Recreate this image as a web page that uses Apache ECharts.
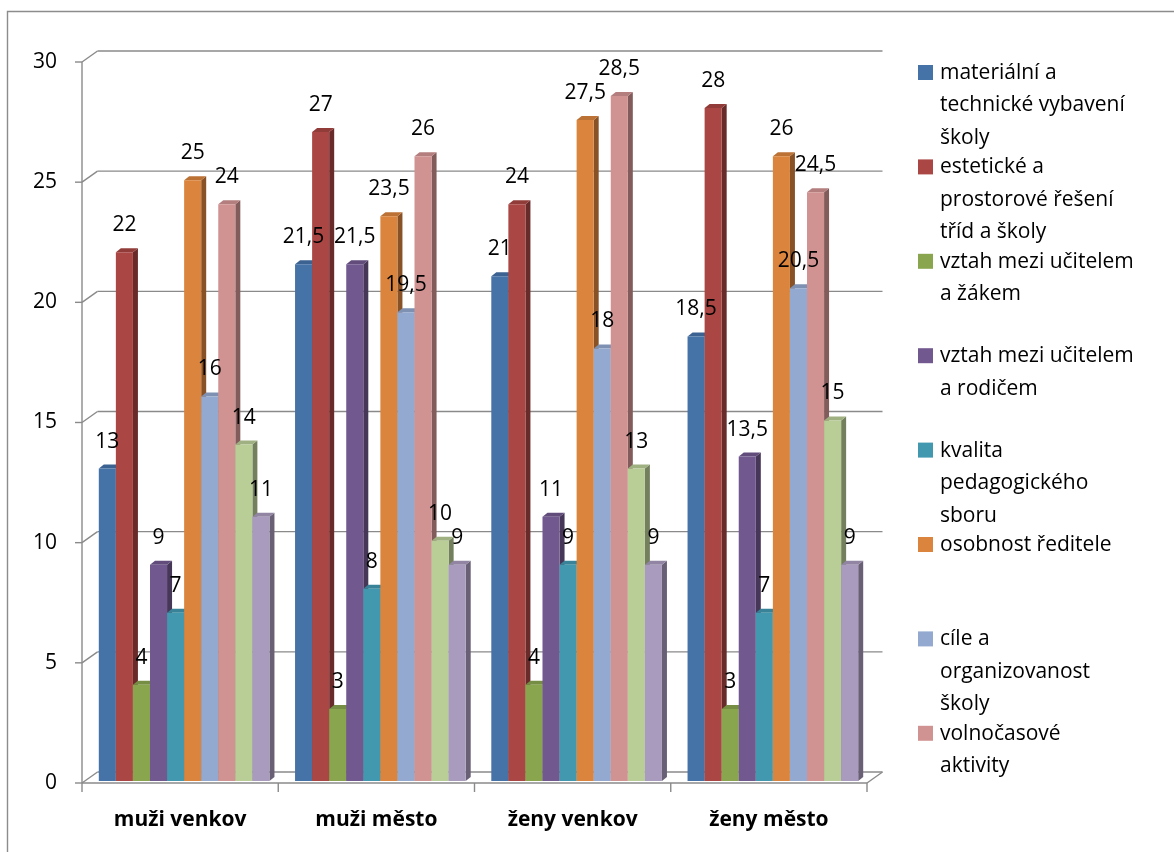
<!DOCTYPE html>
<html>
<head>
<meta charset="utf-8">
<script src="https://cdn.jsdelivr.net/npm/echarts@6/dist/echarts.min.js"></script>
<style>
  html, body { margin: 0; padding: 0; background: #ffffff; }
  #chart { width: 1174px; height: 852px; }
</style>
</head>
<body>
<div id="chart"></div>
<script>
// Categories on the horizontal axis
const categories = ['muži venkov', 'muži město', 'ženy venkov', 'ženy město'];

// Legend entries (the first eight series)
const legendNames = [
  'materiální a\ntechnické vybavení\nškoly',
  'estetické a\nprostorové řešení\ntříd a školy',
  'vztah mezi učitelem\na žákem',
  'vztah mezi učitelem\na rodičem',
  'kvalita\npedagogického\nsboru',
  'osobnost ředitele',
  'cíle a\norganizovanost\nškoly',
  'volnočasové\naktivity'
];

// Values per series, one per category
const vybaveni    = [13, 21.5, 21, 18.5];
const esteticke   = [22, 27, 24, 28];
const ucitelZak   = [4, 3, 4, 3];
const ucitelRodic = [9, 21.5, 11, 13.5];
const kvalita     = [7, 8, 9, 7];
const reditel     = [25, 23.5, 27.5, 26];
const cile        = [16, 19.5, 18, 20.5];
const volnocas    = [24, 26, 28.5, 24.5];
const rada9       = [14, 10, 13, 15];
const rada10      = [11, 9, 9, 9];

const yTicks = [0, 5, 10, 15, 20, 25, 30];

const seriesValues = [vybaveni, esteticke, ucitelZak, ucitelRodic, kvalita,
                      reditel, cile, volnocas, rada9, rada10];
const colors = ['#4572A7', '#AA4643', '#89A54E', '#71588F', '#4198AF',
                '#DB843D', '#93A9CF', '#D19392', '#B9CD96', '#A99BBD'];

const FONT = '"Open Sans", "Noto Sans", sans-serif';
const N = seriesValues.length;
const GAP = 1.5;          // gap between clusters, in bar widths
const SHIFT = 4;          // cluster offset to the right inside the band
const FACE_DY = 2;        // bar front face sits slightly behind the front plane
const BAR_DX = 5, BAR_DY = 4;     // bar depth (oblique)
const WALL_DX = 15.5, WALL_DY = 11; // back wall offset
const GRID_COLOR = '#8a8a8a';

function shade(hex, k) {
  const n = parseInt(hex.slice(1), 16);
  const r = Math.round(((n >> 16) & 255) * k);
  const g = Math.round(((n >> 8) & 255) * k);
  const b = Math.round((n & 255) * k);
  return 'rgb(' + r + ',' + g + ',' + b + ')';
}

function fmt(v) { return String(v).replace('.', ','); }

function barItem(params, api) {
  const s = params.seriesIndex - 1;
  const ci = api.value(0);
  const v = api.value(1);
  const band = api.size([1, 0])[0];
  const bw = band / (N + GAP);
  const base = api.coord([ci, 0]);
  const top = api.coord([ci, v]);
  const x = base[0] - N * bw / 2 + SHIFT + s * bw;
  const yB = base[1] - FACE_DY;
  const yT = top[1] - FACE_DY;
  const c = colors[s];
  return {
    type: 'group',
    children: [
      { type: 'polygon', z2: 1,
        shape: { points: [[x + bw, yT], [x + bw + BAR_DX, yT - BAR_DY], [x + bw + BAR_DX, yB - BAR_DY], [x + bw, yB]] },
        style: { fill: shade(c, 0.62) } },
      { type: 'polygon', z2: 1,
        shape: { points: [[x, yT], [x + BAR_DX, yT - BAR_DY], [x + bw + BAR_DX, yT - BAR_DY], [x + bw, yT]] },
        style: { fill: shade(c, 0.86) } },
      { type: 'rect', z2: 2,
        shape: { x: x, y: yT, width: bw, height: yB - yT },
        style: { fill: c } },
      { type: 'text', z2: 100,
        style: { text: fmt(v), x: x + bw / 2, y: yT - 27, align: 'center', verticalAlign: 'middle',
                 font: '21px ' + FONT, fill: '#000' } }
    ]
  };
}

function frameItem(params, api) {
  const band = api.size([1, 0])[0];
  const x0 = api.coord([0, 0])[0] - band / 2;
  const x1 = api.coord([categories.length - 1, 0])[0] + band / 2;
  const y0 = api.coord([0, 0])[1];
  const yTop = api.coord([0, yTicks[yTicks.length - 1]])[1];
  const st = { stroke: GRID_COLOR, lineWidth: 1.4 };
  const ln = (a, b, c, d) => ({ type: 'line', shape: { x1: a, y1: b, x2: c, y2: d }, style: st });
  const ch = [];
  yTicks.forEach(t => {
    const y = api.coord([0, t])[1];
    ch.push(ln(x0 - 7, y, x0, y));
    ch.push(ln(x0, y, x0 + WALL_DX, y - WALL_DY));
    ch.push(ln(x0 + WALL_DX, y - WALL_DY, x1 + WALL_DX, y - WALL_DY));
  });
  ch.push(ln(x0, yTop, x0, y0));
  ch.push(ln(x0, y0, x1, y0));
  ch.push(ln(x1, y0, x1 + WALL_DX, y0 - WALL_DY));
  for (let i = 0; i <= categories.length; i++) {
    const xi = x0 + i * band;
    ch.push(ln(xi, y0, xi, y0 + 9));
  }
  return { type: 'group', children: ch };
}

const series = [{
  type: 'custom', name: 'frame', z: 1, silent: true,
  renderItem: frameItem, data: [[0, 0]]
}];
seriesValues.forEach((vals, s) => {
  series.push({
    type: 'custom',
    name: legendNames[s] ? legendNames[s].replace(/\n/g, ' ') : 'řada ' + (s + 1),
    z: 2,
    renderItem: barItem,
    data: vals.map((v, i) => [i, v])
  });
});

// Legend drawn as graphic elements
const graphic = [{
  type: 'rect', silent: true,
  shape: { x: 7.5, y: 11.5, width: 1400, height: 1000 },
  style: { fill: null, stroke: '#8c8c8c', lineWidth: 1.4 }
}];
const LEG_STEP = 94.4;
legendNames.forEach((name, i) => {
  graphic.push({
    type: 'rect', silent: true,
    shape: { x: 918, y: 65 + i * LEG_STEP, width: 15, height: 15 },
    style: { fill: colors[i] }
  });
  graphic.push({
    type: 'text', silent: true,
    style: { text: name, x: 940, y: 56.75 + i * LEG_STEP, verticalAlign: 'top',
             font: '21px ' + FONT, lineHeight: 32.5, fill: '#000' }
  });
});

const chart = echarts.init(document.getElementById('chart'), null, { renderer: 'canvas' });
chart.setOption({
  animation: false,
  backgroundColor: '#ffffff',
  grid: { left: 82, top: 62, right: 307, bottom: 69, containLabel: false },
  xAxis: {
    type: 'category', data: categories, boundaryGap: true,
    axisLine: { show: false }, axisTick: { show: false }, splitLine: { show: false },
    axisLabel: { margin: 25, color: '#000', fontFamily: FONT, fontSize: 21, fontWeight: 'bold', lineHeight: 24 }
  },
  yAxis: {
    type: 'value', min: 0, max: 30, interval: 5,
    axisLine: { show: false }, axisTick: { show: false }, splitLine: { show: false },
    axisLabel: { margin: 25, color: '#000', fontFamily: FONT, fontSize: 21 }
  },
  graphic: graphic,
  series: series
});
</script>
</body>
</html>
